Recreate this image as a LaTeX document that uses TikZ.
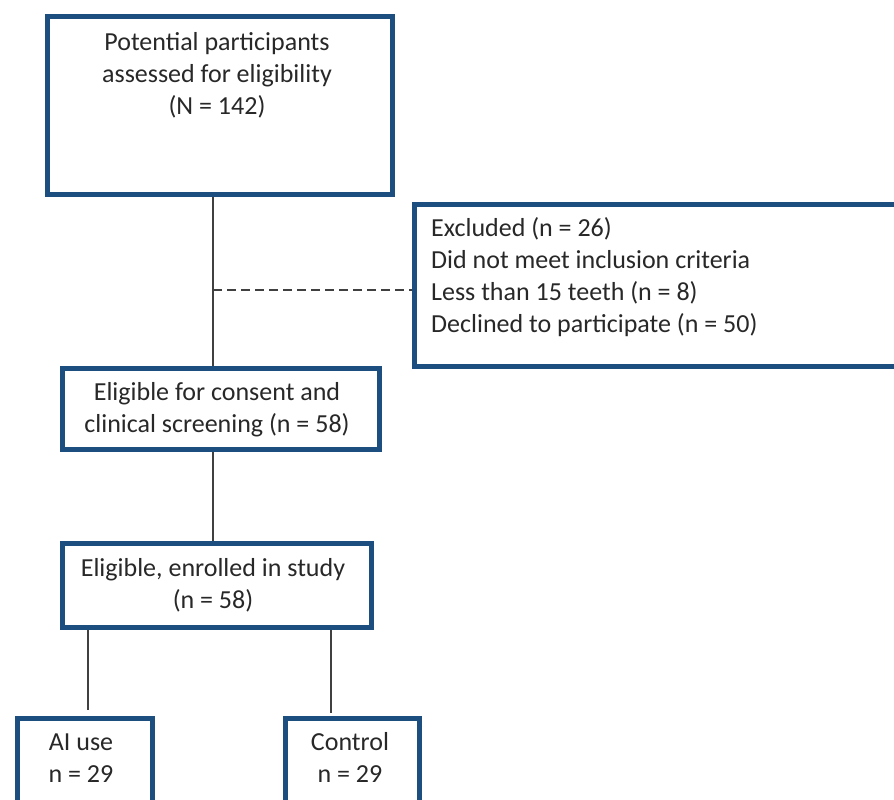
\documentclass[tikz,border=0pt]{standalone}
\usepackage{fontspec}
\setmainfont{Carlito}
\definecolor{boxblue}{RGB}{28,78,128}
\definecolor{txtgray}{RGB}{40,40,40}
\definecolor{lngray}{RGB}{64,64,64}
\begin{document}
\begin{tikzpicture}[x=1pt,y=-1pt,
  box/.style={draw=boxblue, line width=5pt, fill=white, anchor=north west, inner sep=0pt},
  lbl/.style={text=txtgray, font=\fontsize{26}{32}\selectfont, align=center, anchor=base, inner sep=0pt},
  lbll/.style={lbl, align=left, anchor=base west},
  conn/.style={draw=lngray, line width=1.4pt},
  dconn/.style={conn, dash pattern=on 9pt off 5pt}]
\useasboundingbox (0,0) rectangle (894,800);
\clip (0,0) rectangle (894,800);
% boxes
\node[box, minimum width=345pt, minimum height=177pt] (b1) at (44.5,14.5) {};
\node[box, minimum width=510pt, minimum height=162pt] (ex) at (411.5,201.5) {};
\node[box, minimum width=317pt, minimum height=81pt] (b2) at (59.5,365.5) {};
\node[box, minimum width=309pt, minimum height=84pt] (b3) at (59.5,540.5) {};
\node[box, minimum width=135pt, minimum height=110pt] (ai) at (14.5,715.5) {};
\node[box, minimum width=134pt, minimum height=110pt] (ct) at (282.5,715.5) {};
% texts (anchor = baseline of the last line)
\node[lbl] (t1) at (217,114) {Potential participants\\assessed for eligibility\\(N = 142)};
\node[lbll] (tex) at (431,332) {Excluded (n = 26)\\Did not meet inclusion criteria\\Less than 15 teeth (n = 8)\\Declined to participate (n = 50)};
\node[lbl] (t2) at (217,432) {Eligible for consent and\\clinical screening (n = 58)};
\node[lbl] (t3) at (213,608) {Eligible, enrolled in study\\(n = 58)};
\node[lbl] (tai) at (81,782) {AI use\\n = 29};
\node[lbl] (tct) at (350,782) {Control\\n = 29};
% connectors
\coordinate (spine) at (213,290);
\coordinate (lft) at (88,710);
\coordinate (rgt) at (331,713);
\draw[conn] (b1.south -| spine) -- (b2.north -| spine);
\draw[dconn] (spine) -- (spine -| ex.west);
\draw[conn] (b2.south -| spine) -- (b3.north -| spine);
\draw[conn] (b3.south -| lft) -- (lft);
\draw[conn] (b3.south -| rgt) -- (rgt);
\end{tikzpicture}
\end{document}
